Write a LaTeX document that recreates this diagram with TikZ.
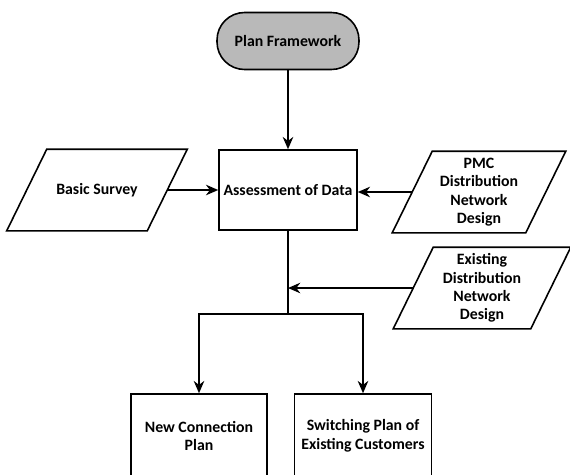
\documentclass[tikz,border=0pt]{standalone}
\usepackage{fontspec}
\setmainfont{Carlito}
\usetikzlibrary{shapes.geometric,arrows.meta,positioning,calc}

\tikzset{
  >={Stealth[length=7pt,width=6pt]},
  flow/.style={draw,line width=0.9pt,inner sep=2pt,align=center,
    font=\bfseries\fontsize{9}{10.5}\selectfont},
  procbox/.style={flow,rectangle,minimum width=2.76cm,minimum height=1.6cm},
  iobox/.style={flow,draw=none,rectangle,minimum height=1.6cm},
  startbox/.style={flow,rectangle,rounded corners=0.55cm,fill=gray!55,
    minimum width=2.84cm,minimum height=1.14cm},
  link/.style={line width=0.9pt,->}
}

\begin{document}
\begin{tikzpicture}[x=0.02cm,y=-0.02cm]
    \useasboundingbox (0,0) rectangle (570,474);
    \clip (0,0) rectangle (570,474);

    \node [startbox] (plan) at (288,41) {Plan Framework};
    \node [procbox] (assess) at (288,190) {Assessment of Data};
    \node [iobox,minimum width=2.78cm] (survey) at (97,190) {Basic Survey};
    \node [iobox,minimum width=2.64cm] (pmc) at (479,192) {PMC\\Distribution\\Network\\Design};
    \node [iobox,minimum width=2.72cm] (exist) at (482,288) {Existing\\Distribution\\Network\\Design};
    \node [procbox,minimum width=2.72cm,minimum height=1.68cm] (newconn) at (199,436) {New Connection\\Plan};
    \node [procbox,minimum width=2.74cm,minimum height=1.68cm] (switch) at (363,436) {Switching Plan of\\Existing Customers};

    % data sheets as parallelograms
    \foreach \n in {survey,pmc,exist} {
        \draw [line width=0.9pt] ($(\n.south west)+(-20,0)$) -- ($(\n.north west)+(20,0)$)
            -- ($(\n.north east)+(20,0)$) -- ($(\n.south east)+(-20,0)$) -- cycle;
    }

    % inputs to the assessment
    \draw [link] (plan) -- (assess);
    \draw [link] (survey.east) -- (survey.east -| assess.west);
    \draw [link] (pmc.west) -- (pmc.west -| assess.east);

    % split towards the two plans
    \coordinate (split) at ($(assess.south)+(0,83)$);
    \draw [line width=0.9pt] (assess.south) -- (split);
    \draw [link] (exist.west) -- (exist.west -| split);
    \draw [link] (split) -| (newconn.north);
    \draw [link] (split) -| (switch.north);
\end{tikzpicture}
\end{document}
